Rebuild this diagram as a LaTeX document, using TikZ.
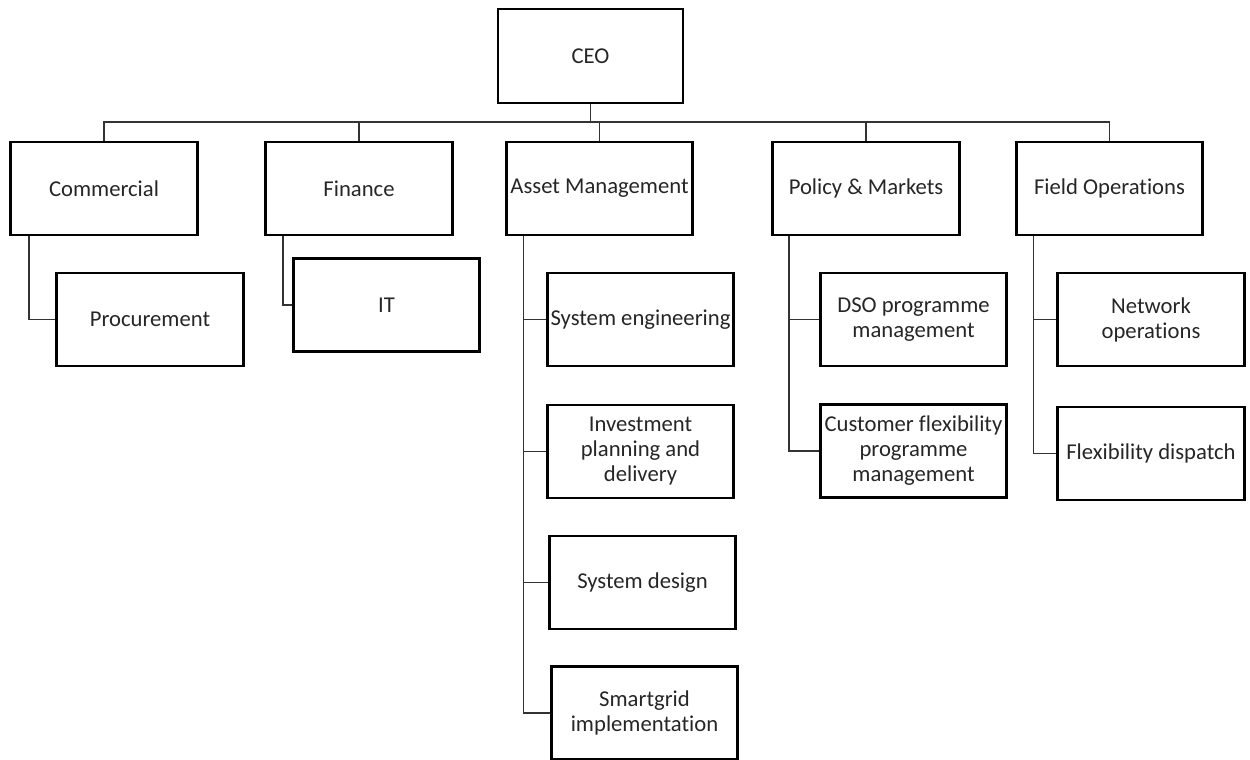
\documentclass[tikz,border=0pt]{standalone}
\usepackage{fontspec}
\setmainfont{Carlito}[Ligatures={NoCommon}]
\begin{document}
\begin{tikzpicture}[x=0.75pt,y=-0.75pt,
  box/.style={draw=black, line width=2.2pt, rectangle, inner sep=0pt, align=center,
    minimum width=140pt, minimum height=69.75pt, text=black!85,
    font=\fontsize{17}{18.75}\selectfont},
  link/.style={draw=black!80, line width=1.1pt}]
\useasboundingbox (0,0) rectangle (1250,760);
% top levels
\node[box, minimum width=138.75pt, minimum height=70.5pt] (ceo) at (590.5,56) {CEO};
\node[box] (com) at (104,188.5) {Commercial};
\node[box] (fin) at (359,188.5) {Finance};
\node[box] (am) at (599.5,188.5) {Asset Management};
\node[box] (pm) at (866,188.5) {Policy \& Markets};
\node[box] (fo) at (1109.5,188.5) {Field Operations};
% children
\node[box] (proc) at (150,319.5) {Procurement};
\node[box] (it) at (386.5,305) {IT};
\node[box] (se) at (640.5,319.5) {System engineering};
\node[box] (ip) at (640.5,451.5) {Investment\\planning and\\delivery};
\node[box] (sd) at (642.5,582.5) {System design};
\node[box] (sg) at (644.5,713) {Smartgrid\\implementation};
\node[box] (dso) at (913.5,319.5) {DSO programme\\management};
\node[box] (cf) at (913.5,451) {Customer flexibility\\programme\\management};
\node[box] (no) at (1151,319.5) {Network\\operations};
\node[box] (fd) at (1151,453.5) {Flexibility dispatch};
% bus
\coordinate (bus) at (590,122);
\draw[link] (ceo.south) -- (ceo.south |- bus);
\draw[link] (com.north) -- (com.north |- bus) -- (fo.north |- bus) -- (fo.north);
\draw[link] (fin.north) -- (fin.north |- bus);
\draw[link] (am.north) -- (am.north |- bus);
\draw[link] (pm.north) -- (pm.north |- bus);
% child connectors
\draw[link] ([xshift=15pt]com.south west) |- (proc.west);
\draw[link] ([xshift=14.25pt]fin.south west) |- (it.west);
\draw[link] ([xshift=14.25pt]am.south west) |- (sg.west);
\draw[link] ([xshift=14.25pt]am.south west |- se.west) -- (se.west);
\draw[link] ([xshift=14.25pt]am.south west |- ip.west) -- (ip.west);
\draw[link] ([xshift=14.25pt]am.south west |- sd.west) -- (sd.west);
\draw[link] ([xshift=13.5pt]pm.south west) |- (cf.west);
\draw[link] ([xshift=13.5pt]pm.south west |- dso.west) -- (dso.west);
\draw[link] ([xshift=14.25pt]fo.south west) |- (fd.west);
\draw[link] ([xshift=14.25pt]fo.south west |- no.west) -- (no.west);
\end{tikzpicture}
\end{document}
